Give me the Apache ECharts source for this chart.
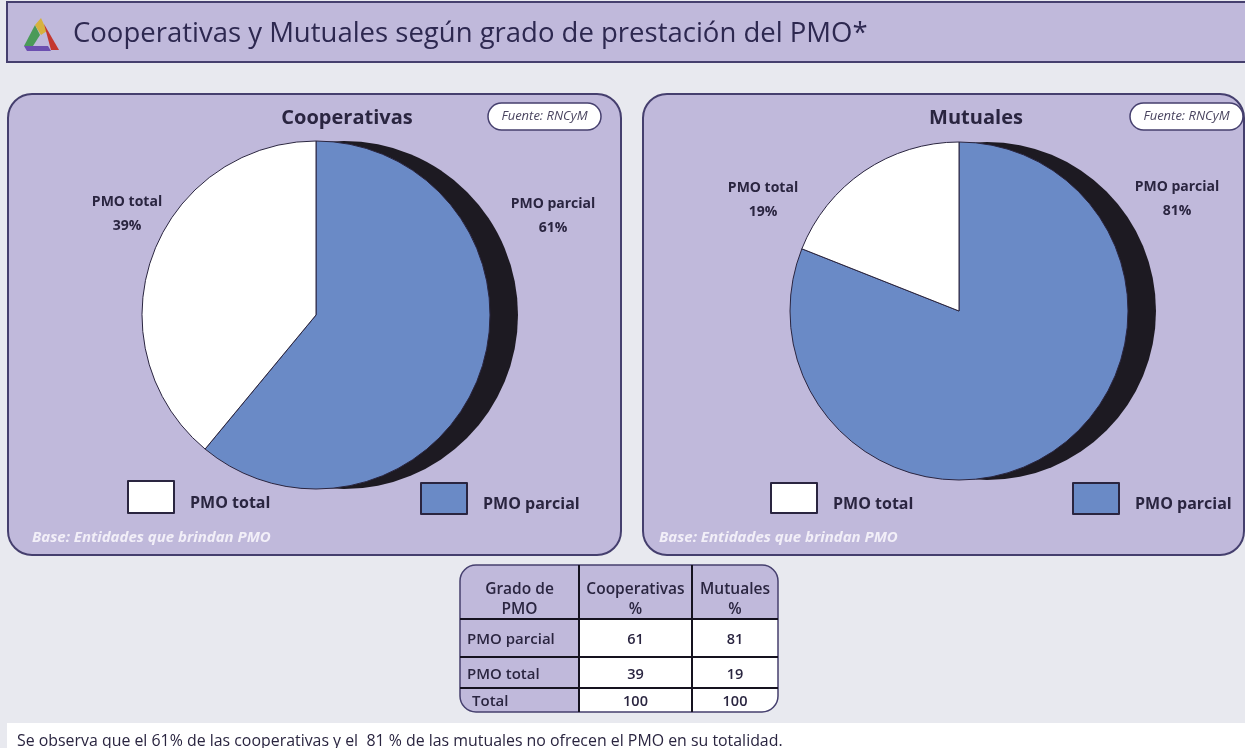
<!DOCTYPE html>
<html>
<head>
<meta charset="utf-8">
<style>html,body{margin:0;padding:0;background:#e8e9ef}#chart{width:1245px;height:748px}</style>
<script src="https://cdn.jsdelivr.net/npm/echarts@6/dist/echarts.min.js"></script>
</head>
<body>
<div id="chart"></div>
<script>
// datos
var categorias = ['PMO parcial', 'PMO total'];
var cooperativas = [61, 39];
var mutuales = [81, 19];
var colores = ['#6a8ac6', '#ffffff'];
var filaTotal = ['Total', '100', '100'];
var cabecera = ['Grado de\nPMO', 'Cooperativas\n%', 'Mutuales\n%'];

var texto = '#2a2540', lila = '#c0b9db', borde = '#453f6e';
var fuente = '"Open Sans", sans-serif';

function piePanel(nombre, valores, cx, cy, r, desplazamiento, etiquetas) {
    var sombra = {
        type: 'pie', name: nombre + ' sombra', center: [cx + desplazamiento, cy], radius: r, silent: true, z: 1,
        label: {show: false}, labelLine: {show: false}, tooltip: {show: false},
        itemStyle: {color: '#1d1a22'}, data: [{name: 'sombra', value: 100}]
    };
    var pie = {
        type: 'pie', name: nombre, center: [cx, cy], radius: r, startAngle: 90, clockwise: true, z: 2,
        animation: false,
        itemStyle: {borderColor: '#2a2540', borderWidth: 1},
        labelLine: {show: false},
        label: {
            position: 'outside', formatter: '{b}\n{c}%', color: texto, fontFamily: fuente,
            fontWeight: 700, fontSize: 14, lineHeight: 24, align: 'center'
        },
        labelLayout: function (p) {
            var e = etiquetas[p.dataIndex];
            return {x: e[0], y: e[1], align: 'center', verticalAlign: 'middle'};
        },
        data: categorias.map(function (c, i) {
            return {name: c, value: valores[i], itemStyle: {color: colores[i]}};
        })
    };
    return [sombra, pie];
}

function leyenda(nombre, left, top, alto) {
    return {
        data: [nombre], left: left, top: top, orient: 'horizontal', padding: 0, selectedMode: false,
        itemWidth: 46, itemHeight: alto, icon: 'rect', itemGap: 0,
        itemStyle: {borderColor: '#2a2540', borderWidth: 2},
        formatter: '{t|{name}}',
        textStyle: {
            rich: {t: {color: texto, fontFamily: fuente, fontWeight: 700, fontSize: 16, padding: [12, 0, 0, 11]}}
        }
    };
}

function panel(x, ancho, titulo, tituloX, pillX, baseX) {
    return [
        {type: 'rect', shape: {x: x, y: 94, width: ancho, height: 461, r: 24},
            style: {fill: lila, stroke: borde, lineWidth: 2}},
        {type: 'text', style: {x: tituloX, y: 118, text: titulo, align: 'center', verticalAlign: 'middle',
            fill: texto, font: '700 20px ' + fuente}},
        {type: 'rect', shape: {x: pillX, y: 103, width: 113, height: 27, r: 13.5},
            style: {fill: '#fff', stroke: borde, lineWidth: 1.5}},
        {type: 'text', style: {x: pillX + 56.5, y: 116.5, text: 'Fuente: RNCyM', align: 'center', verticalAlign: 'middle',
            fill: '#4a4560', font: 'italic 400 13px ' + fuente}},
        {type: 'text', style: {x: baseX, y: 538, text: 'Base: Entidades que brindan PMO', verticalAlign: 'middle',
            fill: '#f2eff8', font: 'italic 700 15px ' + fuente}}
    ];
}

// tabla
function tabla() {
    var xs = [460, 579, 692, 778], ys = [565, 619, 657, 688, 712];
    var filas = categorias.map(function (c, i) {
        return [c, String(cooperativas[i]), String(mutuales[i])];
    });
    filas.push(filaTotal);
    var el = [];
    // fondo blanco y columna lila
    el.push({type: 'rect', shape: {x: xs[0], y: ys[0], width: xs[3] - xs[0], height: ys[4] - ys[0], r: 16},
        style: {fill: '#fff'}});
    el.push({type: 'rect', shape: {x: xs[0], y: ys[0], width: xs[3] - xs[0], height: ys[1] - ys[0], r: [16, 16, 0, 0]},
        style: {fill: lila}});
    el.push({type: 'rect', shape: {x: xs[0], y: ys[1], width: xs[1] - xs[0], height: ys[4] - ys[1], r: [0, 0, 0, 16]},
        style: {fill: lila}});
    el.push({type: 'rect', shape: {x: xs[0], y: ys[0], width: xs[3] - xs[0], height: ys[4] - ys[0], r: 16},
        style: {fill: 'none', stroke: borde, lineWidth: 1.5}});
    for (var i = 1; i < 4; i++) {
        el.push({type: 'line', shape: {x1: xs[0], y1: ys[i], x2: xs[3], y2: ys[i]},
            style: {stroke: '#15121f', lineWidth: 2}});
    }
    for (var j = 1; j < 3; j++) {
        el.push({type: 'line', shape: {x1: xs[j], y1: ys[0], x2: xs[j], y2: ys[4]},
            style: {stroke: '#15121f', lineWidth: 2}});
    }
    cabecera.forEach(function (t, c) {
        el.push({type: 'text', style: {x: (xs[c] + xs[c + 1]) / 2, y: 600, text: t, align: 'center',
            verticalAlign: 'middle', lineHeight: 20, fill: texto, font: '600 15.5px ' + fuente}});
    });
    filas.forEach(function (fila, f) {
        fila.forEach(function (t, c) {
            el.push({type: 'text', style: {x: c === 0 ? xs[0] + (f === 2 ? 12 : 7) : (xs[c] + xs[c + 1]) / 2,
                y: (ys[f + 1] + ys[f + 2]) / 2 + 2, text: t, align: c === 0 ? 'left' : 'center', verticalAlign: 'middle',
                fill: texto, font: c === 0 ? '600 15px ' + fuente : '600 14.5px ' + fuente}});
        });
    });
    return el;
}

var elementos = [
    // cabecera
    {type: 'rect', shape: {x: 7, y: 2, width: 1240, height: 60}, style: {fill: lila, stroke: borde, lineWidth: 2}},
    {type: 'polygon', shape: {points: [[24, 46], [35, 25], [40, 35], [33, 46]]}, style: {fill: '#4a9a58'}},
    {type: 'polygon', shape: {points: [[35, 25], [41, 18], [47, 31], [41, 35]]}, style: {fill: '#d6b23e'}},
    {type: 'polygon', shape: {points: [[44, 24], [59, 50], [51, 50]]}, style: {fill: '#c4372f'}},
    {type: 'polygon', shape: {points: [[24, 46], [48, 46], [51, 51], [27, 51]]}, style: {fill: '#6c4fb0'}},
    {type: 'text', style: {x: 73, y: 34, text: 'Cooperativas y Mutuales según grado de prestación del PMO*', verticalAlign: 'middle',
        fill: '#2d2850', font: '400 27.5px ' + fuente}},
    // franja inferior
    {type: 'rect', shape: {x: 7, y: 723, width: 1238, height: 25}, style: {fill: '#fff'}},
    {type: 'text', style: {x: 17, y: 741, text: 'Se observa que el 61% de las cooperativas y el  81 % de las mutuales no ofrecen el PMO en su totalidad.',
        verticalAlign: 'middle', fill: '#2a2540', font: '400 15.9px ' + fuente}}
].concat(
    panel(8, 613, 'Cooperativas', 347, 488, 32),
    panel(643, 601, 'Mutuales', 976, 1130, 659),
    tabla()
);

var chart = echarts.init(document.getElementById('chart'), null, {renderer: 'canvas'});
chart.setOption({
    animation: false,
    backgroundColor: '#e8e9ef',
    graphic: {elements: elementos},
    legend: [
        leyenda('PMO total', 127, 480, 32),
        leyenda('PMO parcial', 420, 482, 31),
        leyenda('PMO total', 770, 482, 30),
        leyenda('PMO parcial', 1072, 482, 31)
    ],
    series: [].concat(
        piePanel('Cooperativas', cooperativas, 316, 315, 174, 28, [[553, 216], [127, 214]]),
        piePanel('Mutuales', mutuales, 959, 311, 169, 28, [[1177, 199], [763, 200]])
    )
});
</script>
</body>
</html>
